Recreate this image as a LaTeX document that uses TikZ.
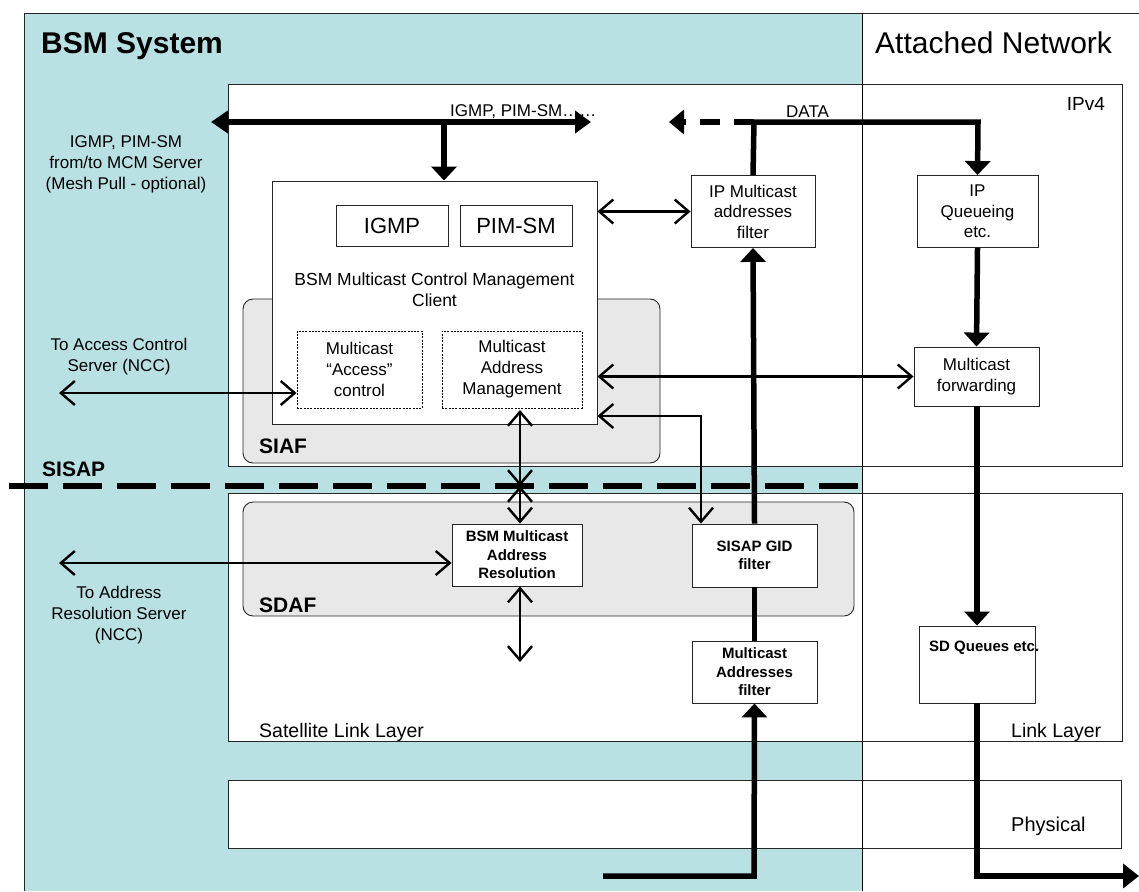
\documentclass[tikz,border=0pt]{standalone}
\usepackage{fontspec}
\setmainfont{Liberation Sans}
\usetikzlibrary{arrows.meta}
\definecolor{bsmblue}{HTML}{B9E0E3}
\definecolor{fgray}{HTML}{E8E8E8}
\begin{document}
\begin{tikzpicture}[x=1pt,y=-1pt,
  frame/.style={draw=black!85, line width=0.9pt},
  blk/.style={draw=black!85, fill=white, line width=0.9pt, inner sep=0pt, align=center, font=\fontsize{17}{20.5}\selectfont},
  bblk/.style={blk, font=\fontsize{15}{18.5}\selectfont\bfseries},
  dblk/.style={draw=black, dash pattern=on 2pt off 1.3pt, line width=0.9pt, fill=white, inner sep=0pt, align=center, font=\fontsize{17}{21}\selectfont},
  func/.style={draw=black!85, fill=fgray, line width=0.9pt, rounded corners=10pt},
  lbl/.style={inner sep=0pt, align=center, font=\fontsize{17}{21}\selectfont},
  thick arr/.style={line width=5.5pt, -{Triangle[length=14pt,width=25pt]}},
  thin arr/.style={line width=2.4pt, {Straight Barb[length=14pt,width=24pt,line width=2.4pt]}-{Straight Barb[length=14pt,width=24pt,line width=2.4pt]}},
]
\useasboundingbox (0,0) rectangle (1139,891);
% background regions
\fill[bsmblue] (24,13) rectangle (862,891);
\draw[frame] (24,891) -- (24,13) -- (1139,13);
% layer boxes
\draw[frame, fill=white] (228,84) rectangle (1122,466);
\draw[frame, fill=white] (228,493) rectangle (1122,741);
\draw[frame, fill=white] (228,780) rectangle (1121,848);
\draw[line width=1pt] (862,13) -- (862,891);
% functional areas
\draw[func] (243,299) rectangle (660,463);
\draw[func] (243,502) rectangle (854,616);
% titles
\node[anchor=base west, inner sep=0pt, font=\fontsize{30}{34}\selectfont\bfseries] (t1) at (41,53) {BSM System};
\node[anchor=base west, inner sep=0pt, font=\fontsize{30}{34}\selectfont] (t2) at (875,53) {Attached Network};
\node[anchor=base east, inner sep=0pt, font=\fontsize{19}{22}\selectfont] (ipv4) at (1105,110) {IPv4};
\node[anchor=base west, inner sep=0pt, font=\fontsize{19.5}{22}\selectfont] (sll) at (259,737) {Satellite Link Layer};
\node[anchor=base west, inner sep=0pt, font=\fontsize{19.5}{22}\selectfont] (ll) at (1011,737) {Link Layer};
\node[anchor=base west, inner sep=0pt, font=\fontsize{20}{22}\selectfont] (phy) at (1011,831) {Physical};
\node[anchor=base west, inner sep=0pt, font=\fontsize{21}{24}\selectfont\bfseries] (siaf) at (259,453) {SIAF};
\node[anchor=base west, inner sep=0pt, font=\fontsize{21}{24}\selectfont\bfseries] (sdaf) at (259,612) {SDAF};
\node[anchor=base west, inner sep=0pt, font=\fontsize{21}{24}\selectfont\bfseries] (sisap) at (42,476) {SISAP};
% SISAP dashed line
\draw[line width=6pt, dash pattern=on 39pt off 15pt] (9,486) -- (862,486);
% side labels
\node[lbl] (mcmsrv) at (126,164) {IGMP, PIM-SM\\from/to MCM Server\\(Mesh Pull - optional)};
\node[lbl] (acs) at (119,357) {To Access Control\\Server (NCC)};
\node[lbl] (ars) at (119,615) {To Address\\Resolution Server\\(NCC)};
\node[anchor=base west, inner sep=0pt, font=\fontsize{17}{20}\selectfont] (igmptxt) at (450,116) {IGMP, PIM-SM……};
\node[anchor=base west, inner sep=0pt, font=\fontsize{17}{20}\selectfont] (datatxt) at (786,117) {DATA};
% MCM client
\node[blk, minimum width=325pt, minimum height=243pt] (mcm) at (434.5,302.5) {};
\node[blk, minimum width=112pt, minimum height=41pt, font=\fontsize{22}{24}\selectfont] (igmp) at (392,225.5) {IGMP};
\node[blk, minimum width=112pt, minimum height=41pt, font=\fontsize{22}{24}\selectfont] (pim) at (516,225.5) {PIM-SM};
\node[lbl, font=\fontsize{17.5}{21}\selectfont] (mcmtxt) at (434.5,290) {BSM Multicast Control Management\\Client};
\node[dblk, minimum width=125pt, minimum height=77pt] (acc) at (359.5,369.5) {Multicast\\“Access”\\control};
\node[dblk, minimum width=140pt, minimum height=77pt] (amg) at (512,369.5) {Multicast\\Address\\Management};
% other blocks
\node[blk, minimum width=124pt, minimum height=72pt] (ipf) at (753,211.5) {IP Multicast\\addresses\\filter};
\node[blk, minimum width=121pt, minimum height=72pt] (ipq) at (977.5,211.5) {IP\\Queueing\\etc.};
\node[blk, minimum width=125pt, minimum height=59pt] (mfw) at (976.5,376.5) {Multicast\\forwarding};
\node[bblk, minimum width=130pt, minimum height=62pt] (mar) at (517,555) {BSM Multicast\\Address\\Resolution};
\node[bblk, minimum width=125pt, minimum height=63pt] (gid) at (754.5,555.5) {SISAP GID\\filter};
\node[bblk, minimum width=125pt, minimum height=62pt] (maf) at (754.5,672) {Multicast\\Addresses\\filter};
\node[blk, minimum width=116pt, minimum height=77pt] (sdq) at (977,664.5) {};
\node[anchor=base west, inner sep=0pt, font=\fontsize{15}{18}\selectfont\bfseries] (sdqtxt) at (929,651) {SD Queues etc.};
% coordinates for free ends
\coordinate (mcmL) at (211,122);
\coordinate (mcmR) at (591,122);
\coordinate (junc) at (444,122);
\coordinate (dataJ) at (754,122);
\coordinate (dataL) at (669,122);
\coordinate (dataR) at (978,122);
\coordinate (acsE) at (59,393);
\coordinate (arsE) at (59,563);
\coordinate (sis) at (520,486);
\coordinate (marD) at (520,662);
\coordinate (inB) at (603,876);
\coordinate (inC) at (754,876);
\coordinate (outC) at (980,876);
\coordinate (outE) at (1139,876);
\coordinate (gidC) at (701,416);
% thick arrows
\draw[line width=5.5pt, {Triangle[length=17pt,width=22pt]}-{Triangle[length=16pt,width=22pt]}] (mcmL) -- (mcmR);
\draw[thick arr] (junc) -- (junc |- mcm.north);
\draw[line width=5.5pt] (ipf.north) -- (dataJ);
\draw[line width=5.5pt, -{Triangle[length=15pt,width=24pt]}, dash pattern=on 20pt off 14pt] (dataJ) -- (dataL);
\draw[thick arr] (dataJ) -- (dataR) -- (ipq.north);
\draw[thick arr] (ipq.south) -- (mfw.north);
\draw[thick arr] (mfw.south -| sdq.north) -- (sdq.north);
\draw[thick arr] (gid.north) -- (ipf.south);
\draw[line width=5.5pt] (gid.south) -- (maf.north);
\draw[thick arr] (inB) -- (inC) -- (maf.south);
\draw[line width=5.5pt, -{Triangle[length=16pt,width=24pt]}] (sdq.south) -- (sdq.south |- outC) -- (outE);
% thin arrows
\draw[thin arr] (mcm.east |- ipf.west) -- (ipf.west);
\draw[thin arr] (mcm.east |- mfw.west) -- (mfw.west);
\draw[thin arr] (acsE) -- (acc.west |- acsE);
\draw[thin arr] (arsE) -- (mar.west |- arsE);
\draw[thin arr] (520,410) -- (sis);
\draw[thin arr] (sis) -- (mar.north -| sis);
\draw[thin arr] (mar.south -| marD) -- (marD);
\draw[thin arr] (mcm.east |- gidC) -- (gidC) -- (gidC |- gid.north);
\end{tikzpicture}
\end{document}
